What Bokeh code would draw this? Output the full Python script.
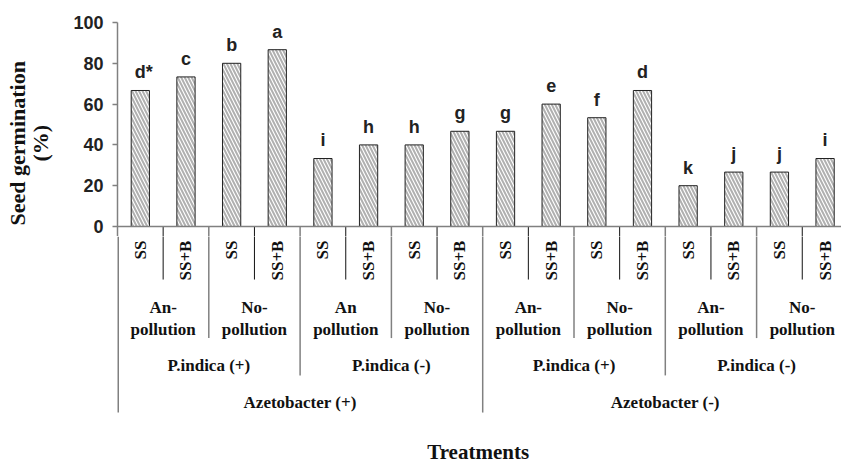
import math
from bokeh.plotting import figure
from bokeh.layouts import column
from bokeh.models import Range1d, FixedTicker, Span
from bokeh.core.properties import value
from bokeh.embed import file_html
from bokeh.resources import INLINE

# ---------------- data ----------------
azetobacter = ["Azetobacter (+)", "Azetobacter (-)"]
pindica = ["P.indica (+)", "P.indica (-)"]
pollution = ["An-\npollution", "No-\npollution", "An\npollution", "No-\npollution",
             "An-\npollution", "No-\npollution", "An-\npollution", "No-\npollution"]
treatment = ["SS", "SS+B"]
germination = [66.67, 73.33, 80.0, 86.67, 33.33, 40.0, 40.0, 46.67,
               46.67, 60.0, 53.33, 66.67, 20.0, 26.67, 26.67, 33.33]
letters = ["d*", "c", "b", "a", "i", "h", "h", "g",
           "g", "e", "f", "d", "k", "j", "j", "i"]
y_ticks = [0, 20, 40, 60, 80, 100]
y_title = ["Seed germination", "(%)"]
x_title = "Treatments"

n = len(germination)
xs = [i + 0.5 for i in range(n)]
subs = [treatment[i % 2] for i in range(n)]

SERIF = "Liberation Serif"
SANS = "Liberation Sans"
GRAY = "#808080"
INK = "#111111"

W = 841
H = 465
LEFT = 117          # page x of the y axis
CAT = 45.65         # px per category
PXU = 2.04          # px per y unit
X_END = (W - LEFT) / CAT

# ---------------- top: bars ----------------
top_h = 236
y_bot_top = 100 - (top_h - 22) / PXU
top = figure(width=W, height=top_h, output_backend="svg", toolbar_location=None,
             x_range=Range1d(0, X_END), y_range=Range1d(y_bot_top, 100),
             x_axis_location=None, min_border_left=LEFT, min_border_right=0,
             min_border_top=22, min_border_bottom=0)

# ---------------- bottom: hierarchical category axis ----------------
bot_h = H - top_h
y_hi = y_bot_top
y_lo = y_hi - bot_h / PXU
bot = figure(width=W, height=bot_h, output_backend="svg", toolbar_location=None,
             x_range=Range1d(0, X_END), y_range=Range1d(y_lo, y_hi),
             x_axis_location=None, y_axis_location=None,
             min_border_left=LEFT, min_border_right=0, min_border_top=0, min_border_bottom=0)

for f in (top, bot):
    f.grid.visible = False
    f.outline_line_color = None
    f.background_fill_color = "white"
    f.border_fill_color = "white"

ya = top.yaxis[0]
ya.ticker = FixedTicker(ticks=y_ticks)
ya.axis_line_color = GRAY
ya.axis_line_width = 1.5
ya.major_tick_line_color = GRAY
ya.major_tick_line_width = 1.5
ya.major_tick_out = 5
ya.major_tick_in = 0
ya.minor_tick_out = 0
ya.minor_tick_in = 0
ya.major_label_standoff = 9
ya.major_label_text_font = SANS
ya.major_label_text_font_style = "bold"
ya.major_label_text_font_size = "18px"
ya.major_label_text_color = "#222222"
pad = "\u00a0" * 5
ya.axis_label = "\n".join(t + pad for t in y_title)
ya.axis_label_text_font = SERIF
ya.axis_label_text_font_style = "bold"
ya.axis_label_text_font_size = "22px"
ya.axis_label_text_color = INK
ya.axis_label_text_line_height = 0.92
ya.axis_label_standoff = 17

top.vbar(x=xs, top=germination, bottom=0, width=0.4,
         fill_color="white", line_color="#222222", line_width=1,
         hatch_pattern="\\", hatch_color="#b0b0b0", hatch_weight=2, hatch_scale=7)
top.add_layout(Span(location=0, dimension="width", line_color=GRAY, line_width=1.5))

lab_y = [v + 8.9 for v in germination]
lab_off = [3.5 if "*" in t else 0 for t in letters]
top.text(x=xs, y=lab_y, text=letters, x_offset=lab_off, text_align="center",
         text_baseline="alphabetic", text_font=value(SANS), text_font_style="bold",
         text_font_size="18px", text_color="#222222")

# separators between categories (drawn in both panels, clipped to each)
depth = {1: -26, 2: -54.7, 4: -73, 8: -91.2}
for f in (top, bot):
    for b in range(1, n):
        lvl = 8 if b % 8 == 0 else 4 if b % 4 == 0 else 2 if b % 2 == 0 else 1
        col = INK if lvl == 1 else GRAY
        w = 1 if lvl == 1 else 1.5
        f.segment(x0=[b], y0=[0], x1=[b], y1=[depth[lvl]], line_color=col, line_width=w)
# continuation of the axis line down to the outermost group
bot.segment(x0=[0], y0=[y_hi], x1=[0], y1=[depth[8]], line_color=GRAY, line_width=3)

common = dict(text_font=value(SERIF), text_font_style="bold", text_font_size="17px",
              text_color=INK)
bot.text(x=xs, y=[-6.9] * n, text=subs, angle=math.pi / 2, text_align="right",
         text_baseline="middle", **common)
pol_x = [2 * k + 1 for k in range(len(pollution))]
bot.text(x=pol_x, y=[-45.1] * len(pol_x), text=pollution, text_align="center",
         text_baseline="middle", text_line_height=1.2, **common)
pi_lab = pindica * 2
pi_x = [4 * k + 2 for k in range(len(pi_lab))]
bot.text(x=pi_x, y=[-68.1] * len(pi_x), text=pi_lab, text_align="center",
         text_baseline="middle", **common)
az_x = [8 * k + 4 for k in range(len(azetobacter))]
bot.text(x=az_x, y=[-86.1] * len(az_x), text=azetobacter, text_align="center",
         text_baseline="middle", **common)
bot.text(x=[n / 2 - 0.1], y=[-110.6], text=[x_title], text_align="center",
         text_baseline="middle", text_font=value(SERIF), text_font_style="bold",
         text_font_size="21px", text_color=INK)

layout = column(top, bot, spacing=0)
open("out.html", "w").write(file_html(layout, INLINE))
